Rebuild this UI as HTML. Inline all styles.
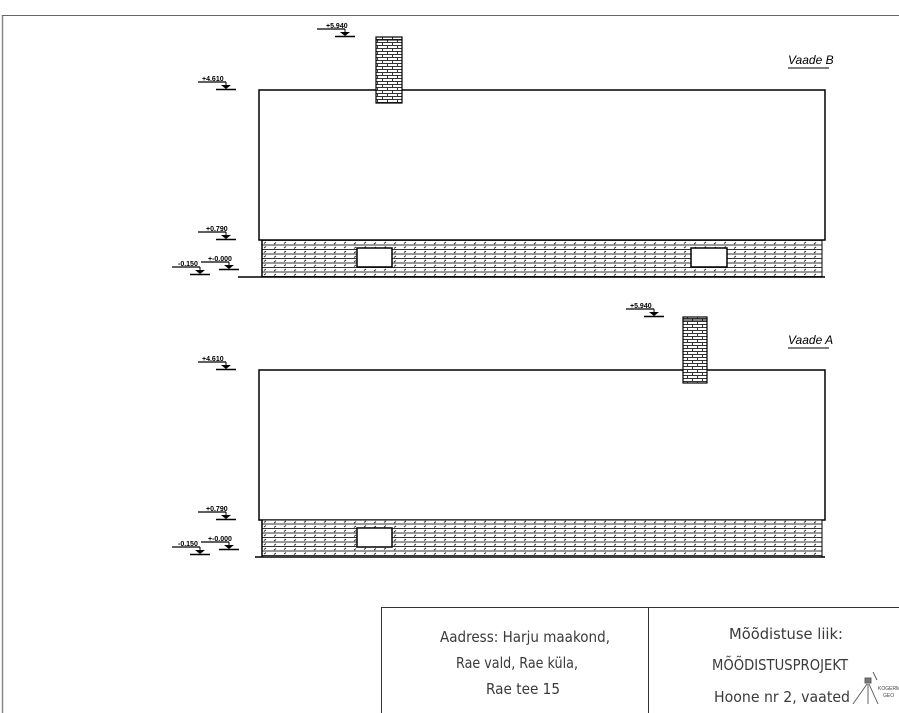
<!DOCTYPE html>
<html><head><meta charset="utf-8"><style>
html,body{margin:0;padding:0;background:#fff;}
svg{display:block;}
.t{font-family:"Liberation Sans",sans-serif;}
.tb{font-family:"DejaVu Sans","Liberation Sans",sans-serif;font-size:15px;fill:#3a3a3a;}
</style></head><body>
<svg width="899" height="713" viewBox="0 0 899 713" xmlns="http://www.w3.org/2000/svg">
<defs>
<pattern id="hatch" width="20" height="4.5" patternUnits="userSpaceOnUse" y="240">
<rect width="20" height="4.5" fill="#fff"/>
<rect x="0" y="0" width="20" height="1" fill="#333"/>
<line x1="4" y1="3.5" x2="6" y2="2" stroke="#222" stroke-width="0.9"/>
<line x1="14" y1="4" x2="16" y2="2.5" stroke="#222" stroke-width="0.9"/>
</pattern>
<pattern id="brick" width="10" height="6" patternUnits="userSpaceOnUse">
<rect width="10" height="6" fill="#fff"/>
<rect x="0" y="0" width="10" height="1" fill="#333"/>
<rect x="0" y="3" width="10" height="1" fill="#333"/>
<rect x="2" y="0" width="1" height="3" fill="#333"/>
<rect x="7" y="3" width="1" height="3" fill="#333"/>
</pattern>
<g id="mark">
<line x1="-28" y1="0" x2="0" y2="0" stroke="#000" stroke-width="1.2"/>
<line x1="0" y1="0" x2="0" y2="5" stroke="#000" stroke-width="1"/>
<polygon points="-5,3 5,3 0,7" fill="#000"/>
<line x1="-10" y1="7.5" x2="10" y2="7.5" stroke="#000" stroke-width="1.5"/>
</g>
</defs>
<line x1="2.5" y1="15" x2="2.5" y2="713" stroke="#888" stroke-width="1.5"/>
<line x1="2" y1="15.5" x2="899" y2="15.5" stroke="#666" stroke-width="1"/>

<!-- VIEW B -->
<rect x="259" y="90" width="566" height="150" fill="#fff" stroke="#000" stroke-width="1.5"/>
<rect x="262" y="240" width="560" height="37" fill="url(#hatch)" stroke="#000" stroke-width="1"/>
<line x1="262" y1="240" x2="262" y2="277" stroke="#000" stroke-width="1.5"/>
<line x1="238" y1="277" x2="825" y2="277" stroke="#000" stroke-width="1.5"/>
<rect x="357" y="248" width="35" height="19" fill="#fff" stroke="#000" stroke-width="1.5"/>
<rect x="691" y="248" width="36" height="19" fill="#fff" stroke="#000" stroke-width="1.5"/>
<rect x="376" y="37" width="26" height="66" fill="url(#brick)" stroke="#000" stroke-width="1.2"/>
<line x1="376" y1="40" x2="402" y2="40" stroke="#000" stroke-width="1"/>
<text x="788" y="64" class="t" font-size="12" font-style="italic">Vaade B</text>
<line x1="788" y1="68" x2="829" y2="68" stroke="#000" stroke-width="1"/>

<use href="#mark" x="345" y="29"/><text x="326" y="28" class="t" font-size="7" font-weight="bold">+5.940</text>
<use href="#mark" x="226" y="82"/><text x="202" y="81" class="t" font-size="7" font-weight="bold">+4.610</text>
<use href="#mark" x="226" y="232"/><text x="206" y="231" class="t" font-size="7" font-weight="bold">+0.790</text>
<use href="#mark" x="229" y="262"/><text x="208" y="261" class="t" font-size="7" font-weight="bold">+-0.000</text>
<use href="#mark" x="200" y="267"/><text x="178" y="266" class="t" font-size="7" font-weight="bold">-0.150</text>

<!-- VIEW A -->
<rect x="259" y="370" width="566" height="150" fill="#fff" stroke="#000" stroke-width="1.5"/>
<rect x="262" y="520" width="560" height="37" fill="url(#hatch)" stroke="#000" stroke-width="1"/>
<line x1="262" y1="520" x2="262" y2="557" stroke="#000" stroke-width="1.5"/>
<line x1="255" y1="557" x2="825" y2="557" stroke="#000" stroke-width="1.5"/>
<rect x="357" y="528" width="35" height="19" fill="#fff" stroke="#000" stroke-width="1.5"/>
<rect x="683" y="317" width="24" height="66" fill="url(#brick)" stroke="#000" stroke-width="1.2"/>
<line x1="683" y1="320" x2="707" y2="320" stroke="#000" stroke-width="1"/>
<text x="788" y="344" class="t" font-size="12" font-style="italic">Vaade A</text>
<line x1="788" y1="348" x2="829" y2="348" stroke="#000" stroke-width="1"/>

<use href="#mark" x="654" y="309"/><text x="630" y="308" class="t" font-size="7" font-weight="bold">+5.940</text>
<use href="#mark" x="226" y="362"/><text x="202" y="361" class="t" font-size="7" font-weight="bold">+4.610</text>
<use href="#mark" x="226" y="512"/><text x="206" y="511" class="t" font-size="7" font-weight="bold">+0.790</text>
<use href="#mark" x="229" y="542"/><text x="208" y="541" class="t" font-size="7" font-weight="bold">+-0.000</text>
<use href="#mark" x="200" y="547"/><text x="178" y="546" class="t" font-size="7" font-weight="bold">-0.150</text>

<!-- title block -->
<line x1="381" y1="607.5" x2="899" y2="607.5" stroke="#333" stroke-width="1"/>
<line x1="381.5" y1="607" x2="381.5" y2="713" stroke="#333" stroke-width="1"/>
<line x1="648.5" y1="607" x2="648.5" y2="713" stroke="#333" stroke-width="1"/>
<text x="440" y="642" class="tb" textLength="170" lengthAdjust="spacingAndGlyphs">Aadress: Harju maakond,</text>
<text x="456" y="668" class="tb" textLength="122" lengthAdjust="spacingAndGlyphs">Rae vald, Rae küla,</text>
<text x="486" y="694" class="tb" textLength="74" lengthAdjust="spacingAndGlyphs">Rae tee 15</text>
<text x="729" y="639" class="tb" textLength="114" lengthAdjust="spacingAndGlyphs">Mõõdistuse liik:</text>
<text x="712" y="670" class="tb" textLength="136" lengthAdjust="spacingAndGlyphs">MÕÕDISTUSPROJEKT</text>
<text x="714" y="702" class="tb" textLength="136" lengthAdjust="spacingAndGlyphs">Hoone nr 2, vaated</text>
<g stroke="#555" stroke-width="0.9" fill="none">
<line x1="867" y1="684" x2="853" y2="704"/>
<line x1="868" y1="684" x2="868" y2="704"/>
<line x1="869" y1="684" x2="878" y2="704"/>
<rect x="865" y="678" width="6" height="5" fill="#777"/>
<line x1="873" y1="672" x2="877" y2="680"/>
</g>
<text x="878" y="690" class="t" font-size="5" fill="#444">KOGERMAN</text>
<text x="883" y="697" class="t" font-size="5" fill="#444">GEO</text>
</svg>
</body></html>
